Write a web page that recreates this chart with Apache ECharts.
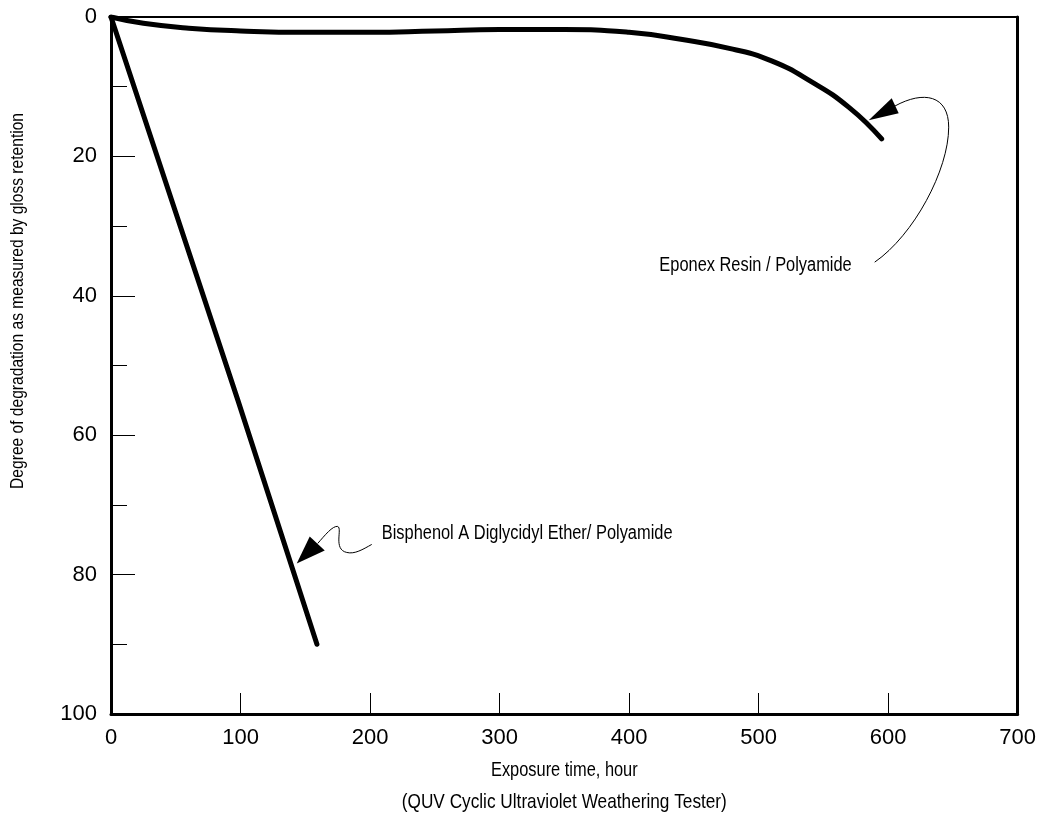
<!DOCTYPE html>
<html><head><meta charset="utf-8">
<script src="https://cdn.jsdelivr.net/npm/echarts@6/dist/echarts.min.js"></script>
<style>html,body{margin:0;padding:0;background:#fff;overflow:hidden}#c{width:1039px;height:817px}</style>
</head><body><div id="c"></div>
<script>
// ---- data ----
const xTickValues = [0, 100, 200, 300, 400, 500, 600, 700];
const yTickValues = [0, 20, 40, 60, 80, 100];
const eponexHours  = [0, 25, 60, 100, 150, 200, 250, 300, 350, 400, 440, 480, 510, 540, 570, 595];
const eponexValues = [0, 0.9, 1.6, 2.0, 2.2, 2.2, 2.0, 1.8, 1.8, 2.2, 3.2, 4.6, 6.3, 9.2, 13.0, 17.5];
const bisphenolHours  = [0, 98, 159];
const bisphenolValues = [0, 55, 90];
const seriesNames = ['Eponex Resin / Polyamide', 'Bisphenol A Diglycidyl Ether/ Polyamide'];
const xAxisTitle = 'Exposure time, hour';
const xAxisSubtitle = '(QUV Cyclic Ultraviolet Weathering Tester)';
const yAxisTitle = 'Degree of degradation as measured by gloss retention';
// annotation anchor points (data space): where arrow tips touch the curves
const eponexArrowTip = [585, 14.8];
const bisphenolArrowTip = [143.4, 78.4];

const FONT = '"Liberation Sans", Arial, sans-serif';
const NARROW = 0.82;
const chart = echarts.init(document.getElementById('c'), null, {renderer: 'canvas'});
const zip = (a, b) => a.map((v, i) => [v, b[i]]);
const noLine = {show: false};

chart.setOption({
  animation: false,
  backgroundColor: '#fff',
  grid: {left: 111, right: 18, top: 17, bottom: 103, containLabel: false},
  xAxis: [{
    type: 'value', min: 0, max: 700, interval: 100, position: 'bottom',
    axisLine: {show: true, onZero: false, lineStyle: {color: '#000', width: 3}},
    axisTick: {show: true, inside: true, length: 21, lineStyle: {color: '#000', width: 1}},
    axisLabel: {color: '#000', fontSize: 22, fontFamily: FONT, margin: 13,
      formatter: v => xTickValues.includes(v) ? String(v) : ''},
    splitLine: {show: false}
  }, {
    type: 'value', min: 0, max: 700, position: 'top',
    axisLine: {show: true, onZero: false, lineStyle: {color: '#000', width: 2}},
    axisTick: {show: false}, axisLabel: {show: false}, splitLine: {show: false}
  }],
  yAxis: [{
    type: 'value', min: 0, max: 100, interval: 20, inverse: true, position: 'left',
    axisLine: {show: true, onZero: false, lineStyle: {color: '#000', width: 3}},
    axisTick: {show: true, inside: true, length: 24, lineStyle: {color: '#000', width: 1}},
    axisLabel: {color: '#000', fontSize: 22, fontFamily: FONT, margin: 14,
      formatter: v => yTickValues.includes(v) ? String(v) : ''},
    splitLine: {show: false}
  }, {
    type: 'value', min: 0, max: 100, interval: 10, inverse: true, position: 'left',
    axisLine: {show: false, onZero: false},
    axisTick: {show: true, inside: true, length: 16, lineStyle: {color: '#000', width: 1}},
    axisLabel: {show: false}, splitLine: {show: false}
  }, {
    type: 'value', min: 0, max: 100, inverse: true, position: 'right',
    axisLine: {show: true, onZero: false, lineStyle: {color: '#000', width: 3}},
    axisTick: {show: false}, axisLabel: {show: false}, splitLine: {show: false}
  }],
  series: [{
    name: seriesNames[0], type: 'line', data: zip(eponexHours, eponexValues),
    xAxisIndex: 0, yAxisIndex: 0,
    smooth: 0.5, showSymbol: false,
    lineStyle: {color: '#000', width: 5, cap: 'round', join: 'round'}
  }, {
    name: seriesNames[1], type: 'line', data: zip(bisphenolHours, bisphenolValues),
    xAxisIndex: 0, yAxisIndex: 0,
    showSymbol: false,
    lineStyle: {color: '#000', width: 5, cap: 'round', join: 'round'}
  }]
});

const toPx = p => chart.convertToPixel({xAxisIndex: 0, yAxisIndex: 0}, p);
const ep = toPx(eponexArrowTip);
const bp = toPx(bisphenolArrowTip);
const mid = toPx([350, 50]);
const thin = {stroke: '#000', lineWidth: 1, fill: null};
const txt = (text, size, align) => ({text, fill: '#000', fontSize: size, fontFamily: FONT, align, verticalAlign: 'middle'});

chart.setOption({
  graphic: [
    {
      type: 'group', x: ep[0], y: ep[1], silent: true,
      children: [
        {type: 'polygon', shape: {points: [[0, 0], [23, -22], [30, -7]]}, style: {fill: '#000'}},
        {type: 'bezierCurve', shape: {x1: 26, y1: -14, cpx1: 55, cpy1: -30, cpx2: 80, cpy2: -25, x2: 80, y2: 7}, style: thin},
        {type: 'bezierCurve', shape: {x1: 80, y1: 7, cpx1: 80, cpy1: 50, cpx2: 45, cpy2: 115, x2: 6, y2: 142}, style: thin},
        {type: 'text', x: -17, y: 145, scaleX: NARROW, style: txt(seriesNames[0], 20, 'right')}
      ]
    },
    {
      type: 'group', x: bp[0], y: bp[1], silent: true,
      children: [
        {type: 'polygon', shape: {points: [[0, 0], [13, -27], [28, -13]]}, style: {fill: '#000'}},
        {type: 'bezierCurve', shape: {x1: 21, y1: -20, cpx1: 28, cpy1: -28, cpx2: 36, cpy2: -38, x2: 41, y2: -37}, style: thin},
        {type: 'bezierCurve', shape: {x1: 41, y1: -37, cpx1: 46, cpy1: -35, cpx2: 36, cpy2: -14, x2: 50, y2: -11}, style: thin},
        {type: 'bezierCurve', shape: {x1: 50, y1: -11, cpx1: 58, cpy1: -9, cpx2: 66, cpy2: -14, x2: 75, y2: -19}, style: thin},
        {type: 'text', x: 85, y: -30, scaleX: NARROW, style: txt(seriesNames[1], 20, 'left')}
      ]
    },
    {type: 'text', x: mid[0], y: 770, scaleX: NARROW, silent: true, style: txt(xAxisTitle, 20, 'center')},
    {type: 'text', x: mid[0], y: 802, scaleX: NARROW, silent: true, style: txt(xAxisSubtitle, 21, 'center')},
    {type: 'text', x: 18, y: 113, rotation: Math.PI / 2, scaleX: NARROW, silent: true, style: txt(yAxisTitle, 19, 'right')}
  ]
});
</script>
</body></html>
